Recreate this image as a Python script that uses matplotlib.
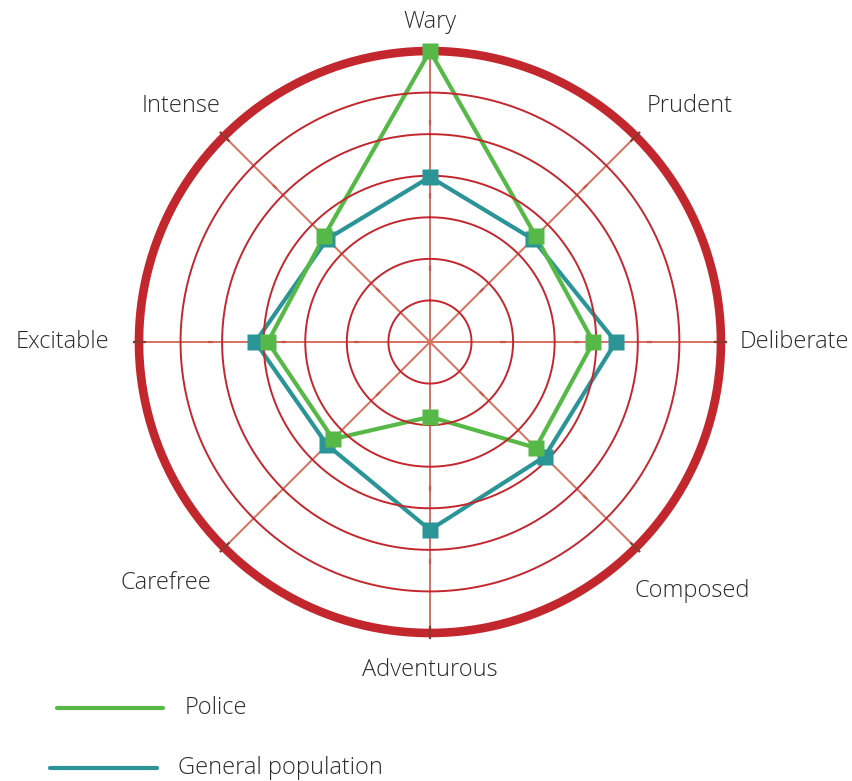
import numpy as np
import matplotlib.pyplot as plt
from matplotlib.lines import Line2D

# categories clockwise from the top
categories = ["Wary", "Prudent", "Deliberate", "Composed",
              "Adventurous", "Carefree", "Excitable", "Intense"]
police = [7.0, 3.6, 3.93, 3.6, 1.8, 3.3, 3.9, 3.6]
general = [3.97, 3.5, 4.47, 3.9, 4.52, 3.5, 4.2, 3.5]
series_names = ["Police", "General population"]

plt.rcParams['font.family'] = ['Open Sans', 'DejaVu Sans']
FW = 'light'

RED = "#c3272e"
SPOKE = "#d8705f"
GREEN = "#56b947"
TEAL = "#2a9497"
TXT = "#2b2b2b"

fig = plt.figure(figsize=(8.52, 7.81), dpi=100)
ax = fig.add_axes([0.1631, 0.1895, 0.6831, 0.7452], projection='polar')
ax.set_theta_zero_location('N')
ax.set_theta_direction(-1)
ax.set_ylim(0, 7)
ax.axis('off')

n = len(categories)
ang = np.arange(n) * 2 * np.pi / n
full = np.linspace(0, 2 * np.pi, 400)

# spokes
for a in ang:
    ax.plot([a, a], [0, 7], color=SPOKE, lw=1.4, zorder=1)
    ax.plot([a, a], [6.85, 7.12], color="#8a3b2b", lw=1.6, zorder=2, clip_on=False)
    for t in [1.76, 3.52, 5.28]:
        ax.plot([a, a], [t - 0.04, t + 0.04], color="#c65a48", lw=1.6, zorder=1)

# outer thick ring
ax.plot(full, np.full_like(full, 7), color=RED, lw=6.2, zorder=1, clip_on=False)

# data
a_closed = np.append(ang, ang[0])
for vals, col in [(general, TEAL), (police, GREEN)]:
    v = np.append(vals, vals[0])
    ax.plot(a_closed, v, color=col, lw=3, zorder=2, clip_on=False)
    ax.plot(ang, vals, ls='none', marker='s', ms=11, color=col,
            mec='none', zorder=4, clip_on=False)

# thin rings on top of the lines
for r in range(1, 7):
    ax.plot(full, np.full_like(full, r), color=RED, lw=1.4, zorder=3)

# category labels
lab_theta = [0, 47.8, 90, 133.4, 180, 227.6, 270, 313.5]
lab_r = [7.7, 8.44, 8.77, 8.7, 7.88, 8.6, 8.85, 8.25]
for name, th, r in zip(categories, lab_theta, lab_r):
    ax.text(np.deg2rad(th), r, name, ha='center', va='center',
            fontsize=17, color=TXT, fontweight=FW, clip_on=False)

# legend
W, H = 852, 781
leg = [(57, 163, 708, 185, GREEN), (50, 157, 768, 178, TEAL)]
for (x0, x1, y, xt, col), name in zip(leg, series_names):
    fig.add_artist(Line2D([x0 / W, x1 / W], [1 - y / H, 1 - y / H],
                          color=col, lw=3, solid_capstyle='round'))
    fig.text(xt / W, 1 - y / H, name, ha='left', va='center',
             fontsize=17, color=TXT, fontweight=FW)

fig.savefig("out.png", dpi=100)
